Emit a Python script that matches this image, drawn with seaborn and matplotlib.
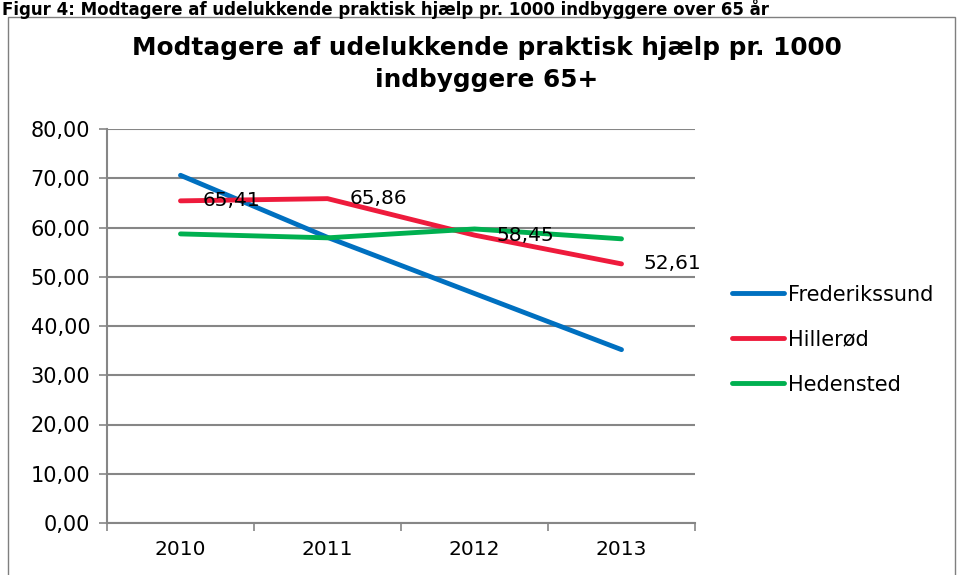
import matplotlib
matplotlib.use("Agg")
import matplotlib.pyplot as plt
import seaborn as sns
import pandas as pd
import numpy as np
from matplotlib.patches import Rectangle
from matplotlib.ticker import FuncFormatter, FixedLocator

years = ["2010", "2011", "2012", "2013"]
frederikssund = [70.6, 58.0, 46.6, 35.2]
hilleroed = [65.41, 65.86, 58.45, 52.61]
hedensted = [58.7, 57.9, 59.7, 57.7]
series_names = ["Frederikssund", "Hillerød", "Hedensted"]
label_values = hilleroed
title = "Modtagere af udelukkende praktisk hjælp pr. 1000\nindbyggere 65+"
caption = "Figur 4: Modtagere af udelukkende praktisk hjælp pr. 1000 indbyggere over 65 år"

df = pd.DataFrame({
    "year": years * 3,
    "value": frederikssund + hilleroed + hedensted,
    "series": [series_names[0]] * 4 + [series_names[1]] * 4 + [series_names[2]] * 4,
})
df["x"] = df["year"].map({y: i for i, y in enumerate(years)})

sns.set_theme(style="white")
plt.rcParams["font.family"] = ["DejaVu Sans"]
plt.rcParams["text.color"] = "black"

fig = plt.figure(figsize=(9.6, 5.75), dpi=100)
ax = fig.add_axes([107 / 960, 1 - 523 / 575, (695 - 107) / 960, (523 - 129) / 575])

palette = {"Frederikssund": "#0070C0", "Hillerød": "#EE1B3C", "Hedensted": "#00B050"}
sns.lineplot(data=df, x="x", y="value", hue="series", palette=palette,
             linewidth=3.5, ax=ax, legend=True, solid_capstyle="round")

ax.set_xlim(-0.5, 3.5)
ax.set_ylim(0, 80)
ax.set_yticks(np.arange(0, 81, 10))
ax.yaxis.set_major_formatter(FuncFormatter(lambda v, p: f"{v:.2f}".replace(".", ",")))
ax.set_xticks(range(4))
ax.set_xticklabels(years)
ax.xaxis.set_minor_locator(FixedLocator([-0.5, 0.5, 1.5, 2.5, 3.5]))
ax.tick_params(axis="x", which="major", length=0, labelsize=14.5, pad=12, colors="black")
ax.tick_params(axis="x", which="minor", length=6, width=1.2, color="#868686", direction="out", bottom=True)
ax.tick_params(axis="y", which="major", length=6, width=1.2, color="#868686", direction="out",
               left=True, labelsize=15, pad=6, labelcolor="black")
ax.set_xlabel("")
ax.set_ylabel("")
ax.grid(axis="y", color="#868686", linewidth=1.5)
ax.set_axisbelow(True)
for s in ["top", "right"]:
    ax.spines[s].set_visible(False)
ax.spines["left"].set_color("#868686")
ax.spines["left"].set_linewidth(1.5)
ax.spines["bottom"].set_color("#868686")
ax.spines["bottom"].set_linewidth(1.5)

for i, v in enumerate(label_values):
    ax.annotate(f"{v:.2f}".replace(".", ","), xy=(i, v), xytext=(16, 0), textcoords="offset points",
                ha="left", va="center", fontsize=14.5, color="black")

leg = ax.legend(loc="center left", bbox_to_anchor=(1.048, 0.465), frameon=False, fontsize=15,
                handlelength=2.5, handletextpad=0.2, labelspacing=1.2, borderaxespad=0)
for h in leg.get_lines():
    h.set_linewidth(3.5)
    h.set_solid_capstyle("round")
for t in leg.get_texts():
    t.set_color("black")

fig.text(487 / 960, 1 - 64 / 575, title, ha="center", va="center", fontsize=17.8,
         fontweight="bold", linespacing=1.45, color="black")
fig.text(2 / 960, 1 - 9 / 575, caption, ha="left", va="center", fontsize=12,
         fontweight="bold", color="black")

fig.patches.append(Rectangle((8 / 960, -0.1), (955 - 8) / 960, 1.1 - 17 / 575,
                             transform=fig.transFigure, fill=False, edgecolor="#7f7f7f",
                             linewidth=1.0))

fig.savefig("out.png", dpi=100)
